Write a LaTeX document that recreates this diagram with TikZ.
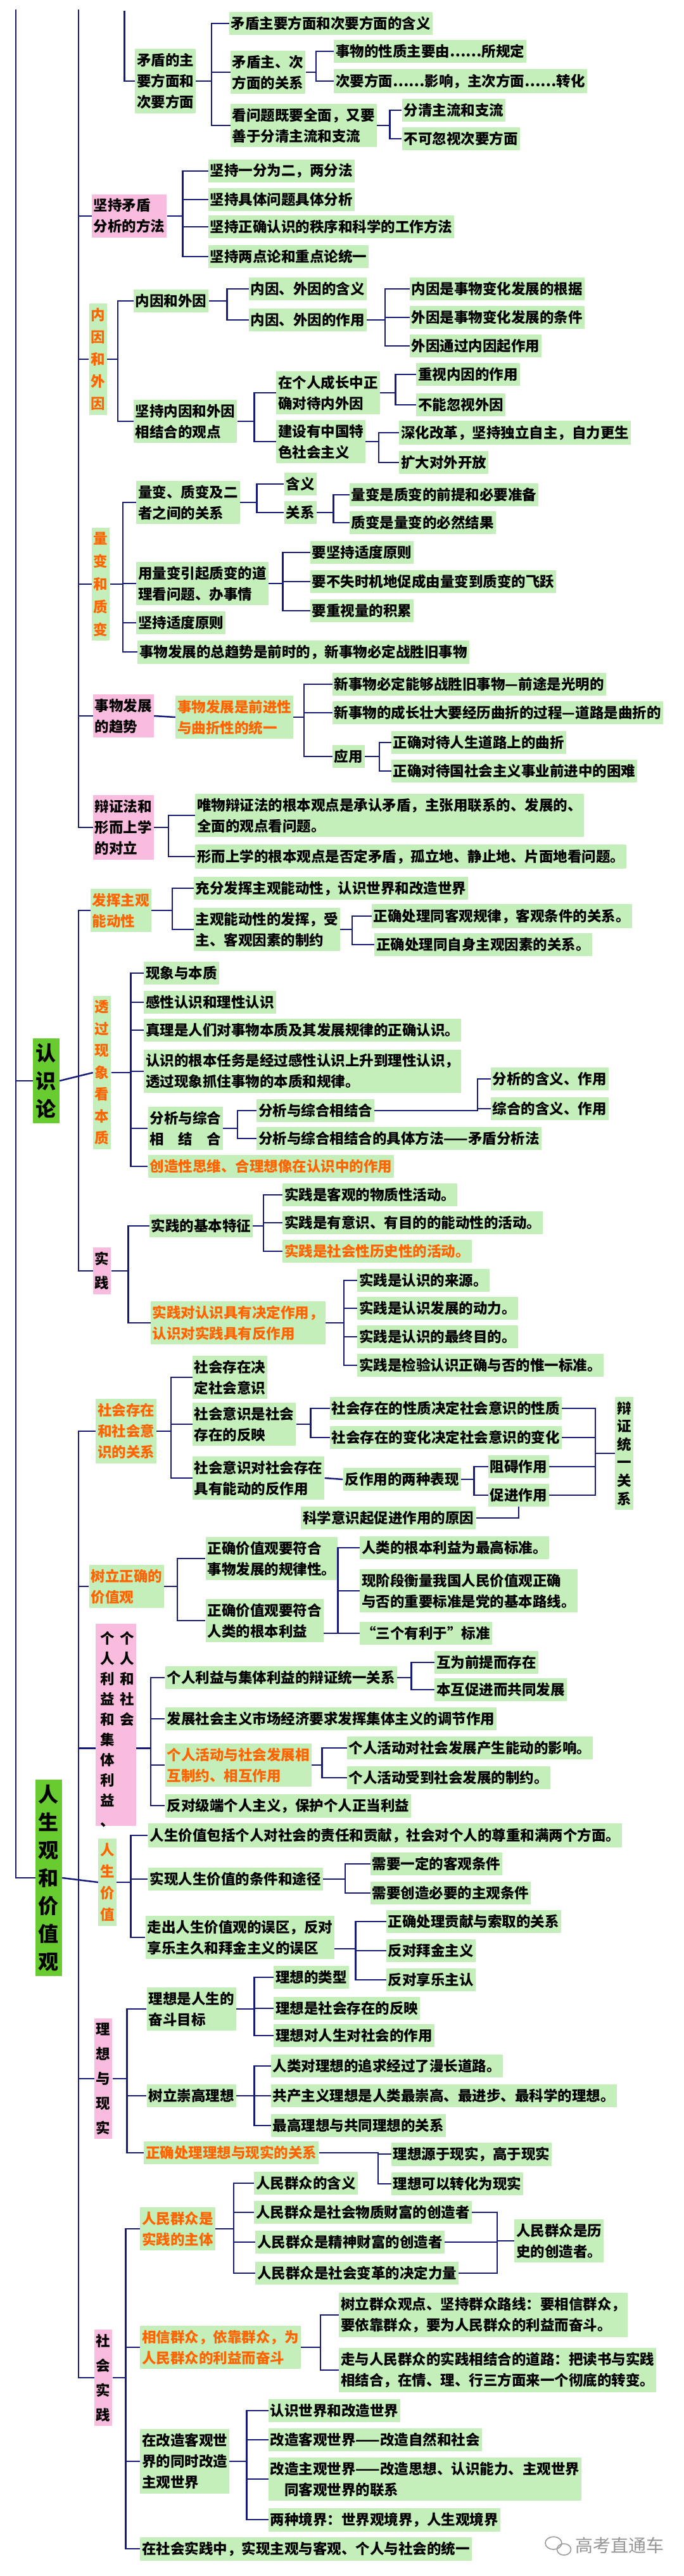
\documentclass[tikz,border=0pt]{standalone}
\usepackage{fontspec}
\setmainfont{Noto Sans CJK SC}
\usepackage{tikz}
\usetikzlibrary{calc}

\definecolor{boxgreen}{RGB}{196,238,186}
\definecolor{boxpink}{RGB}{250,188,222}
\definecolor{topgreen}{RGB}{104,204,48}
\definecolor{linkblue}{RGB}{22,26,120}
\definecolor{hotorange}{RGB}{255,100,0}
\definecolor{markgray}{RGB}{150,150,150}

\newcommand\boxfont{\bfseries\fontsize{22.5}{33}\selectfont}
% parent -> bus at a fixed offset -> children
\newcommand\branch[3]{\foreach \c in {#3}{\draw[link] (#1) -- ++(#2,0) |- (\c.west);}}
% parent -> bus at a named x -> children
\newcommand\branchat[3]{\foreach \c in {#3}{\draw[link] (#1) -- (#1 -| #2) |- (\c.west);}}
% several boxes -> bus at a named x -> one box
\newcommand\mergeto[3]{\foreach \c in {#3}{\draw[link] (\c.east) -- (\c.east -| #2) |- (#1.west);}}

\tikzset{
  link/.style={draw=linkblue, line width=2.5pt},
  gbox/.style={fill=boxgreen, anchor=west, align=left, inner xsep=3pt, inner ysep=7pt, minimum height=36pt, font=\boxfont},
  pbox/.style={gbox, fill=boxpink},
  hot/.style={text=hotorange},
  vbox/.style={fill=boxgreen, anchor=west, align=center, inner xsep=3pt, inner ysep=7pt, font=\bfseries\fontsize{22.5}{#1}\selectfont},
  vbox/.default=35,
  vpink/.style={vbox=#1, fill=boxpink},
  vpink/.default=37,
  topbox/.style={fill=topgreen, anchor=west, align=center, inner xsep=5pt, inner ysep=8pt, font=\bfseries\fontsize{32}{44}\selectfont},
  vcol/.style={anchor=north, inner sep=0pt, align=center, font=\bfseries\fontsize{22.5}{32}\selectfont},
}

\begin{document}
\begin{tikzpicture}[x=2.0661pt, y=-1pt]
\fill[white] (0,0) rectangle (522.7,4066);
\useasboundingbox (0,0) rectangle (522.7,4066);

% main lines coming from above
\coordinate (top0) at (12,15);
\coordinate (top1) at (60,15);
\coordinate (top2) at (95,17);

% ---------------- 矛盾的主要方面和次要方面
\node[gbox] (zhuci) at (103,128) {矛盾的主\\要方面和\\次要方面};
\node[gbox] (zhuci1) at (175,37) {矛盾主要方面和次要方面的含义};
\node[gbox] (zhuci2) at (176,114) {矛盾主、次\\方面的关系};
\node[gbox] (zhuci3) at (176,198) {看问题既要全面，又要\\善于分清主流和支流};
\node[gbox] (zhuci21) at (255,81) {事物的性质主要由……所规定};
\node[gbox] (zhuci22) at (255,128) {次要方面……影响，主次方面……转化};
\node[gbox] (zhuci31) at (307,174) {分清主流和支流};
\node[gbox] (zhuci32) at (307,219) {不可忽视次要方面};
\draw[link] (top2) |- (zhuci.west);
\branch{zhuci.east}{12}{zhuci1,zhuci2,zhuci3}
\branch{zhuci2.east}{8}{zhuci21,zhuci22}
\branch{zhuci3.east}{10}{zhuci31,zhuci32}

% ---------------- 坚持矛盾分析的方法
\node[pbox] (fenxi) at (70,341) {坚持矛盾\\分析的方法};
\node[gbox] (fenxi1) at (159,270) {坚持一分为二，两分法};
\node[gbox] (fenxi2) at (159,315) {坚持具体问题具体分析};
\node[gbox] (fenxi3) at (159,358) {坚持正确认识的秩序和科学的工作方法};
\node[gbox] (fenxi4) at (159,405) {坚持两点论和重点论统一};
\branch{fenxi.east}{12}{fenxi1,fenxi2,fenxi3,fenxi4}

% ---------------- 内因和外因
\node[vbox, hot] (neiwai) at (68,567) {内\\因\\和\\外\\因};
\node[gbox] (neiwai1) at (102,475) {内因和外因};
\node[gbox] (neiwai2) at (102,665) {坚持内因和外因\\相结合的观点};
\node[gbox] (neiwai11) at (190,456) {内因、外因的含义};
\node[gbox] (neiwai12) at (190,505) {内因、外因的作用};
\node[gbox] (neiwai121) at (313,456) {内因是事物变化发展的根据};
\node[gbox] (neiwai122) at (313,501) {外因是事物变化发展的条件};
\node[gbox] (neiwai123) at (313,546) {外因通过内因起作用};
\node[gbox] (neiwai21) at (211,620) {在个人成长中正\\确对待内外因};
\node[gbox] (neiwai22) at (211,697) {建设有中国特\\色社会主义};
\node[gbox] (neiwai211) at (318,591) {重视内因的作用};
\node[gbox] (neiwai212) at (318,639) {不能忽视外因};
\node[gbox] (neiwai221) at (305,683) {深化改革，坚持独立自主，自力更生};
\node[gbox] (neiwai222) at (305,730) {扩大对外开放};
\branch{neiwai.east}{8}{neiwai1,neiwai2}
\branch{neiwai1.east}{14}{neiwai11,neiwai12}
\branch{neiwai12.east}{14}{neiwai121,neiwai122,neiwai123}
\branch{neiwai2.east}{13}{neiwai21,neiwai22}
\branch{neiwai21.east}{12}{neiwai211,neiwai212}
\branch{neiwai22.east}{10}{neiwai221,neiwai222}

% ---------------- 量变和质变
\node[vbox=36, hot] (liang) at (70,922) {量\\变\\和\\质\\变};
\node[gbox] (liang1) at (104,793) {量变、质变及二\\者之间的关系};
\node[gbox] (liang2) at (104,921) {用量变引起质变的道\\理看问题、办事情};
\node[gbox] (liang3) at (104,983) {坚持适度原则};
\node[gbox] (liang4) at (105,1029) {事物发展的总趋势是前时的，新事物必定战胜旧事物};
\node[gbox] (liang11) at (217,764) {含义};
\node[gbox] (liang12) at (217,809) {关系};
\node[gbox] (liang121) at (267,781) {量变是质变的前提和必要准备};
\node[gbox] (liang122) at (267,825) {质变是量变的必然结果};
\node[gbox] (liang21) at (237,872) {要坚持适度原则};
\node[gbox] (liang22) at (237,918) {要不失时机地促成由量变到质变的飞跃};
\node[gbox] (liang23) at (237,964) {要重视量的积累};
\branch{liang.east}{10}{liang1,liang2,liang3,liang4}
\branch{liang1.east}{13}{liang11,liang12}
\branch{liang12.east}{13}{liang121,liang122}
\branch{liang2.east}{11}{liang21,liang22,liang23}

% ---------------- 事物发展的趋势
\node[pbox] (qushi) at (71,1130) {事物发展\\的趋势};
\node[gbox, hot] (qushi0) at (134,1132) {事物发展是前进性\\与曲折性的统一};
\node[gbox] (qushi1) at (254,1080) {新事物必定能够战胜旧事物—前途是光明的};
\node[gbox] (qushi2) at (254,1125) {新事物的成长壮大要经历曲折的过程—道路是曲折的};
\node[gbox] (qushi3) at (254,1194) {应用};
\node[gbox] (qushi31) at (299,1172) {正确对待人生道路上的曲折};
\node[gbox] (qushi32) at (299,1217) {正确对待国社会主义事业前进中的困难};
\draw[link] (qushi.east) -- (qushi0.west);
\branch{qushi0.east}{8}{qushi1,qushi2,qushi3}
\branch{qushi3.east}{11}{qushi31,qushi32}

% ---------------- 辩证法和形而上学的对立
\node[pbox] (duili) at (71,1306) {辩证法和\\形而上学\\的对立};
\node[gbox] (duili1) at (149,1287) {唯物辩证法的根本观点是承认矛盾，主张用联系的、发展的、\\全面的观点看问题。};
\node[gbox] (duili2) at (149,1352) {形而上学的根本观点是否定矛盾，孤立地、静止地、片面地看问题。};
\branch{duili.east}{11}{duili1,duili2}

\draw[link] (top1) |- (duili.west);
\foreach \c in {fenxi,neiwai,liang,qushi}
  \draw[link] (\c.west) -- (\c.west -| top1);

% ================= 认识论
\node[topbox] (rsl) at (25,1706) {认\\识\\论};

\node[gbox, hot] (fahui) at (69,1437) {发挥主观\\能动性};
\node[gbox] (fahui1) at (148,1402) {充分发挥主观能动性，认识世界和改造世界};
\node[gbox] (fahui2) at (148,1467) {主观能动性的发挥，受\\主、客观因素的制约};
\node[gbox] (fahui21) at (284,1446) {正确处理同客观规律，客观条件的关系。};
\node[gbox] (fahui22) at (286,1491) {正确处理同自身主观因素的关系。};
\branch{fahui.east}{16}{fahui1,fahui2}
\branch{fahui2.east}{9}{fahui21,fahui22}

\node[vbox=34.5, hot] (touguo) at (71,1693) {透\\过\\现\\象\\看\\本\\质};
\node[gbox] (touguo1) at (110,1536) {现象与本质};
\node[gbox] (touguo2) at (110,1582) {感性认识和理性认识};
\node[gbox] (touguo3) at (110,1626) {真理是人们对事物本质及其发展规律的正确认识。};
\node[gbox] (touguo4) at (110,1691) {认识的根本任务是经过感性认识上升到理性认识，\\透过现象抓住事物的本质和规律。};
\node[gbox] (touguo5) at (113,1781) {分析与综合\\相　结　合};
\node[gbox, hot] (touguo6) at (113,1841) {创造性思维、合理想像在认识中的作用};
\node[gbox] (touguo51) at (196,1753) {分析与综合相结合};
\node[gbox] (touguo52) at (196,1797) {分析与综合相结合的具体方法——矛盾分析法};
\node[gbox] (touguo511) at (375,1703) {分析的含义、作用};
\node[gbox] (touguo512) at (375,1750) {综合的含义、作用};
\coordinate (touguobus) at (365,0);
\branch{touguo.east}{15}{touguo1,touguo2,touguo3,touguo4,touguo5,touguo6}
\branch{touguo5.east}{11}{touguo51,touguo52}
\branchat{touguo51.east}{touguobus}{touguo511,touguo512}

\node[vpink=38] (shijian) at (71,2006) {实\\践};
\node[gbox] (shijian1) at (114,1935) {实践的基本特征};
\node[gbox, hot] (shijian2) at (115,2088) {实践对认识具有决定作用，\\认识对实践具有反作用};
\node[gbox] (shijian11) at (216,1886) {实践是客观的物质性活动。};
\node[gbox] (shijian12) at (216,1930) {实践是有意识、有目的的能动性的活动。};
\node[gbox, hot] (shijian13) at (216,1975) {实践是社会性历史性的活动。};
\node[gbox] (shijian21) at (273,2021) {实践是认识的来源。};
\node[gbox] (shijian22) at (273,2065) {实践是认识发展的动力。};
\node[gbox] (shijian23) at (273,2110) {实践是认识的最终目的。};
\node[gbox] (shijian24) at (273,2155) {实践是检验认识正确与否的惟一标准。};
\branch{shijian.east}{13}{shijian1,shijian2}
\branch{shijian1.east}{8}{shijian11,shijian12,shijian13}
\branch{shijian2.east}{14}{shijian21,shijian22,shijian23,shijian24}

\draw[link] (rsl.west) -- (rsl.west -| top0);
\draw[link] (rsl.east) -- (touguo.west);
\draw[link] (fahui.west) -- (fahui.west -| top1) -- (shijian.west -| top1) -- (shijian.west);

% ================= 人生观和价值观
\node[topbox] (rsg) at (27,2964) {人\\生\\观\\和\\价\\值\\观};

\node[gbox, hot] (cunzai) at (73,2259) {社会存在\\和社会意\\识的关系};
\node[gbox] (cunzai1) at (147,2174) {社会存在决\\定社会意识};
\node[gbox] (cunzai2) at (147,2248) {社会意识是社会\\存在的反映};
\node[gbox] (cunzai3) at (147,2333) {社会意识对社会存在\\具有能动的反作用};
\node[gbox] (cunzai21) at (252,2223) {社会存在的性质决定社会意识的性质};
\node[gbox] (cunzai22) at (252,2269) {社会存在的变化决定社会意识的变化};
\node[gbox] (cunzai31) at (262,2335) {反作用的两种表现};
\node[gbox] (cunzai311) at (373,2315) {阻碍作用};
\node[gbox] (cunzai312) at (373,2360) {促进作用};
\node[gbox] (cunzai32) at (230,2396) {科学意识起促进作用的原因};
\node[vbox=28.6] (tongyi) at (470,2294) {辩\\证\\统\\一\\关\\系};
\coordinate (tongyibus) at (455,0);
\branch{cunzai.east}{11}{cunzai1,cunzai2,cunzai3}
\branch{cunzai2.east}{11}{cunzai21,cunzai22}
\draw[link] (cunzai3.east) -- (cunzai31.west);
\branch{cunzai31.east}{10}{cunzai311,cunzai312}
\draw[link] (cunzai32.east) -| (cunzai312.south);
\mergeto{tongyi}{tongyibus}{cunzai21,cunzai22,cunzai311,cunzai312}

\node[gbox, hot] (jiazhi) at (68,2504) {树立正确的\\价值观};
\node[gbox] (jiazhi1) at (157,2460) {正确价值观要符合\\事物发展的规律性。};
\node[gbox] (jiazhi2) at (157,2558) {正确价值观要符合\\人类的根本利益};
\node[gbox] (jiazhi21) at (275,2443) {人类的根本利益为最高标准。};
\node[gbox] (jiazhi22) at (275,2511) {现阶段衡量我国人民价值观正确\\与否的重要标准是党的基本路线。};
\node[gbox] (jiazhi23) at (275,2578) {“三个有利于”标准};
\branch{jiazhi.east}{10}{jiazhi1,jiazhi2}
\branch{$(jiazhi2.east)+(0,20)$}{11}{jiazhi21,jiazhi22,jiazhi23}

\node[fill=boxpink, anchor=north west, inner sep=0pt, minimum width=64pt, minimum height=319pt] (geren) at (73,2563) {};
\node[vcol] (gerencol1) at (82,2575) {个\\人\\利\\益\\和\\集\\体\\利\\益\\、};
\node[vcol] (gerencol2) at (97,2575) {个\\人\\和\\社\\会};
\node[gbox] (geren1) at (126,2648) {个人利益与集体利益的辩证统一关系};
\node[gbox] (geren2) at (126,2713) {发展社会主义市场经济要求发挥集体主义的调节作用};
\node[gbox, hot] (geren3) at (126,2786) {个人活动与社会发展相\\互制约、相互作用};
\node[gbox] (geren4) at (126,2850) {反对级端个人主义，保护个人正当利益};
\node[gbox] (geren11) at (332,2624) {互为前提而存在};
\node[gbox] (geren12) at (332,2667) {本互促进而共同发展};
\node[gbox] (geren31) at (265,2759) {个人活动对社会发展产生能动的影响。};
\node[gbox] (geren32) at (265,2806) {个人活动受到社会发展的制约。};
\branch{$(geren.east)+(0,37)$}{11}{geren1,geren2,geren3,geren4}
\branch{geren1.east}{11}{geren11,geren12}
\branch{geren3.east}{8}{geren31,geren32}

\node[vbox=34, hot] (renjz) at (75,2971) {人\\生\\价\\值};
\node[gbox] (renjz1) at (113,2897) {人生价值包括个人对社会的责任和贡献，社会对个人的尊重和满两个方面。};
\node[gbox] (renjz2) at (113,2966) {实现人生价值的条件和途径};
\node[gbox] (renjz3) at (111,3058) {走出人生价值观的误区，反对\\享乐主久和拜金主义的误区};
\node[gbox] (renjz21) at (283,2942) {需要一定的客观条件};
\node[gbox] (renjz22) at (283,2988) {需要创造必要的主观条件};
\node[gbox] (renjz31) at (295,3033) {正确处理贡献与索取的关系};
\node[gbox] (renjz32) at (295,3079) {反对拜金主义};
\node[gbox] (renjz33) at (295,3125) {反对享乐主认};
\branch{renjz.east}{11}{renjz1,renjz2,renjz3}
\branch{renjz2.east}{17}{renjz21,renjz22}
\branch{$(renjz3.east)+(0,18)$}{16}{renjz31,renjz32,renjz33}

\node[vpink=39] (lixiang) at (72,3281) {理\\想\\与\\现\\实};
\node[gbox] (lixiang1) at (112,3171) {理想是人生的\\奋斗目标};
\node[gbox] (lixiang2) at (112,3308) {树立崇高理想};
\node[gbox, hot] (lixiang3) at (110,3398) {正确处理理想与现实的关系};
\node[gbox] (lixiang11) at (209,3121) {理想的类型};
\node[gbox] (lixiang12) at (209,3170) {理想是社会存在的反映};
\node[gbox] (lixiang13) at (209,3213) {理想对人生对社会的作用};
\node[gbox] (lixiang21) at (207,3261) {人类对理想的追求经过了漫长道路。};
\node[gbox] (lixiang22) at (207,3308) {共产主义理想是人类最崇高、最进步、最科学的理想。};
\node[gbox] (lixiang23) at (207,3355) {最高理想与共同理想的关系};
\node[gbox] (lixiang31) at (299,3400) {理想源于现实，高于现实};
\node[gbox] (lixiang32) at (299,3447) {理想可以转化为现实};
\coordinate (lixiangbus) at (289,0);
\branch{lixiang.east}{11}{lixiang1,lixiang2,lixiang3}
\branch{lixiang1.east}{14}{lixiang11,lixiang12,lixiang13}
\branch{lixiang2.east}{14}{lixiang21,lixiang22,lixiang23}
\branchat{lixiang3.east}{lixiangbus}{lixiang31,lixiang32}

\node[vpink=39] (shsj) at (72,3753) {社\\会\\实\\践};
\node[gbox, hot] (shsj1) at (107,3518) {人民群众是\\实践的主体};
\node[gbox, hot] (shsj2) at (107,3705) {相信群众，依靠群众，为\\人民群众的利益而奋斗};
\node[gbox] (shsj3) at (107,3885) {在改造客观世\\界的同时改造\\主观世界};
\node[gbox] (shsj4) at (107,4023) {在社会实践中，实现主观与客观、个人与社会的统一};
\node[gbox] (shsj11) at (194,3446) {人民群众的含义};
\node[gbox] (shsj12) at (194,3492) {人民群众是社会物质财富的创造者};
\node[gbox] (shsj13) at (195,3539) {人民群众是精神财富的创造者};
\node[gbox] (shsj14) at (195,3588) {人民群众是社会变革的决定力量};
\node[gbox] (shsj1x) at (393,3537) {人民群众是历\\史的创造者。};
\node[gbox] (shsj21) at (259,3654) {树立群众观点、坚持群众路线：要相信群众，\\要依靠群众，要为人民群众的利益而奋斗。};
\node[gbox] (shsj22) at (259,3741) {走与人民群众的实践相结合的道路：把读书与实践\\相结合，在情、理、行三方面来一个彻底的转变。};
\node[gbox] (shsj31) at (205,3805) {认识世界和改造世界};
\node[gbox] (shsj32) at (205,3851) {改造客观世界——改造自然和社会};
\node[gbox] (shsj33) at (205,3913) {改造主观世界——改造思想、认识能力、主观世界\\\hspace*{1em}同客观世界的联系};
\node[gbox] (shsj34) at (205,3977) {两种境界：世界观境界，人生观境界};
\coordinate (shsjbus) at (380,0);
\branch{shsj.east}{10}{shsj1,shsj2,shsj3,shsj4}
\branch{shsj1.east}{14}{shsj11,shsj12,shsj13,shsj14}
\mergeto{shsj1x}{shsjbus}{shsj12,shsj13,shsj14}
\branch{shsj2.east}{15}{shsj21,shsj22}
\branch{shsj3.east}{13}{shsj31,shsj32,shsj33,shsj34}

\draw[link] (top0) |- (rsg.west);
\draw[link] (rsg.east) -- (renjz.west);
\draw[link] (cunzai.west) -- (cunzai.west -| top1) -- (shsj.west -| top1) -- (shsj.west);
\foreach \c in {jiazhi,lixiang}
  \draw[link] (\c.west) -- (\c.west -| top1);
\draw[link] ($(geren.west)+(0,37)$) -- ($(geren.west -| top1)+(0,37)$);

% watermark
\draw[markgray, line width=1.5pt] (423,4014) ellipse [x radius=13pt, y radius=10pt];
\draw[markgray, line width=1.5pt] (431,4024) ellipse [x radius=11pt, y radius=9pt];
\node[anchor=west, text=markgray, font=\fontsize{28}{30}\selectfont] (mark) at (438,4018) {高考直通车};
\end{tikzpicture}
\end{document}
